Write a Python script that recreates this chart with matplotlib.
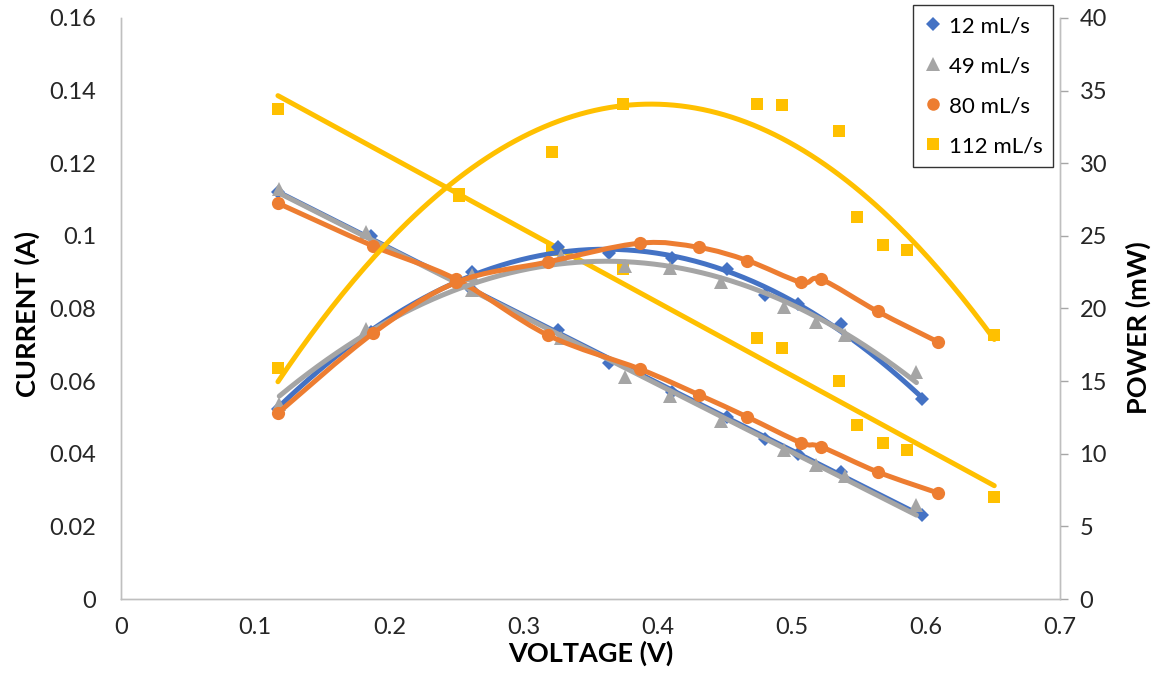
import numpy as np
import matplotlib
matplotlib.use("Agg")
import matplotlib.pyplot as plt
from matplotlib.path import Path
from matplotlib.patches import PathPatch
from matplotlib.lines import Line2D

plt.rcParams['font.family'] = ['Lato', 'DejaVu Sans']

# ---- data ----
series_labels = ["12 mL/s", "49 mL/s", "80 mL/s", "112 mL/s"]

v_12 = [0.117, 0.186, 0.262, 0.326, 0.364, 0.411, 0.452, 0.480, 0.505, 0.537, 0.597]
i_12 = [0.112, 0.100, 0.085, 0.074, 0.065, 0.057, 0.050, 0.044, 0.040, 0.035, 0.023]
p_12 = [13.1, 18.4, 22.5, 24.2, 23.8, 23.5, 22.7, 20.9, 20.3, 18.9, 13.8]

v_49 = [0.118, 0.183, 0.262, 0.328, 0.376, 0.409, 0.447, 0.494, 0.518, 0.540, 0.593]
i_49 = [0.113, 0.101, 0.085, 0.072, 0.061, 0.056, 0.049, 0.041, 0.037, 0.034, 0.026]
p_49 = [13.4, 18.6, 22.3, 23.6, 22.9, 22.8, 21.8, 20.1, 19.1, 18.2, 15.6]

v_80 = [0.117, 0.188, 0.250, 0.318, 0.387, 0.431, 0.467, 0.507, 0.522, 0.564, 0.609]
i_80 = [0.109, 0.0972, 0.0880, 0.0727, 0.0633, 0.0562, 0.0501, 0.0430, 0.0419, 0.0350, 0.0292]
p_80 = [12.8, 18.3, 21.8, 23.2, 24.5, 24.2, 23.3, 21.8, 22.0, 19.8, 17.7]

v_112 = [0.117, 0.252, 0.321, 0.374, 0.474, 0.493, 0.535, 0.549, 0.568, 0.586, 0.651]
i_112 = [0.135, 0.111, 0.096, 0.091, 0.072, 0.069, 0.060, 0.048, 0.043, 0.041, 0.028]
p_112 = [15.9, 27.9, 30.8, 34.1, 34.1, 34.0, 32.2, 26.3, 24.4, 24.0, 18.2]

x_ticks = [0, 0.1, 0.2, 0.3, 0.4, 0.5, 0.6, 0.7]
y_ticks = [0, 0.02, 0.04, 0.06, 0.08, 0.1, 0.12, 0.14, 0.16]
y2_ticks = [0, 5, 10, 15, 20, 25, 30, 35, 40]

colors = ['#4472C4', '#A5A5A5', '#ED7D31', '#FFC000']
markers = ['D', '^', 'o', 's']
msizes = [7.5, 10, 9.5, 9]

W, H = 1157, 673
fig = plt.figure(figsize=(W / 100, H / 100), dpi=100)
ax = fig.add_axes([121 / W, 1 - 599 / H, (1060 - 121) / W, (599 - 18) / H])
ax2 = ax.twinx()

LW = 3.6


def smooth_path(x, y):
    x = np.asarray(x, float)
    y = np.asarray(y, float)
    pts = np.column_stack([x, y])
    n = len(pts)
    verts = [pts[0]]
    codes = [Path.MOVETO]
    for k in range(n - 1):
        p0 = pts[k - 1] if k > 0 else pts[k]
        p1 = pts[k]
        p2 = pts[k + 1]
        p3 = pts[k + 2] if k + 2 < n else pts[k + 1]
        c1 = p1 + (p2 - p0) / 6.0
        c2 = p2 - (p3 - p1) / 6.0
        verts += [c1, c2, p2]
        codes += [Path.CURVE4] * 3
    return Path(verts, codes)


data = [
    (v_12, i_12, p_12, 'trend'),
    (v_49, i_49, p_49, 'trend'),
    (v_80, i_80, p_80, 'smooth'),
    (v_112, i_112, p_112, 'trend'),
]

for k, (v, i, p, mode) in enumerate(data):
    c = colors[k]
    ax.plot(v, i, linestyle='none', marker=markers[k], ms=msizes[k], color=c,
            markeredgewidth=0, zorder=2 + k)
    ax2.plot(v, p, linestyle='none', marker=markers[k], ms=msizes[k], color=c,
             markeredgewidth=0, zorder=2 + k)
    if mode == 'trend':
        xs = np.linspace(min(v), max(v), 200)
        ci = np.polyfit(v, i, 1)
        cp = np.polyfit(v, p, 2)
        ax.plot(xs, np.polyval(ci, xs), color=c, lw=LW, solid_capstyle='round', zorder=2.5 + k)
        ax2.plot(xs, np.polyval(cp, xs), color=c, lw=LW, solid_capstyle='round', zorder=2.5 + k)
    else:
        ax.add_patch(PathPatch(smooth_path(v, i), fill=False, edgecolor=c, lw=LW,
                               capstyle='round', zorder=2.5 + k))
        ax2.add_patch(PathPatch(smooth_path(v, p), fill=False, edgecolor=c, lw=LW,
                                capstyle='round', zorder=2.5 + k))

ax.set_xlim(0, 0.7)
ax.set_ylim(0, 0.16)
ax2.set_ylim(0, 40)
ax.set_xticks(x_ticks)
ax.set_xticklabels([f"{t:g}" for t in x_ticks])
ax.set_yticks(y_ticks)
ax.set_yticklabels([f"{t:g}" for t in y_ticks])
ax2.set_yticks(y2_ticks)
ax2.set_yticklabels([f"{t:g}" for t in y2_ticks])

tick_color = '#262626'
ax.tick_params(axis='x', length=0, labelsize=17, labelcolor=tick_color, pad=13)
ax.tick_params(axis='y', length=0, labelsize=17, labelcolor=tick_color, pad=18)
ax2.tick_params(axis='y', length=6, width=1, color='#A6A6A6', direction='out',
                labelsize=17, labelcolor=tick_color, pad=8)

for a in (ax, ax2):
    a.spines['top'].set_visible(False)
    for s in ('left', 'right', 'bottom'):
        a.spines[s].set_color('#BFBFBF')
        a.spines[s].set_linewidth(1)

ax.set_xlabel("VOLTAGE (V)", fontsize=19.5, fontweight='bold')
ax.xaxis.set_label_coords(0.5, -(641 - 599) / 581)
ax.set_ylabel("CURRENT (A)", fontsize=19.5, fontweight='bold')
ax.yaxis.set_label_coords((40 - 121) / 939, (599 - 314) / 581)
ax2.set_ylabel("POWER (mW)", fontsize=19.5, fontweight='bold')
ax2.yaxis.set_label_coords((1126 - 121) / 939, (599 - 328) / 581)

handles = [Line2D([], [], linestyle='none', marker=markers[k], ms=msizes[k] * 0.95,
                  color=colors[k], markeredgewidth=0) for k in range(4)]
leg = fig.legend(handles, series_labels, loc='upper left',
                 bbox_to_anchor=(913 / W, 1 - 5 / H), fontsize=16,
                 frameon=True, fancybox=False, edgecolor='black',
                 handlelength=0.8, handletextpad=0.3, labelspacing=0.9,
                 borderpad=0.5, borderaxespad=0)
leg.get_frame().set_linewidth(1)

fig.savefig("out.png", dpi=100, facecolor='white')
